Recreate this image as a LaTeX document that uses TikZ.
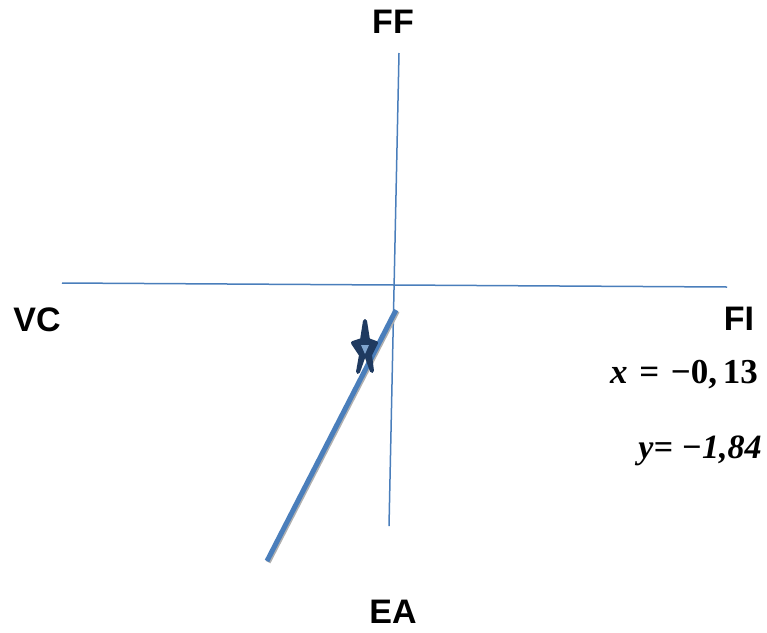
\documentclass[tikz,border=0pt]{standalone}
\usepackage{fontspec}
\setmainfont{Liberation Sans}
\newfontfamily\serifbi{Liberation Serif}
\definecolor{axisblue}{HTML}{4A7EBB}
\definecolor{navy}{HTML}{1F3A60}
\definecolor{shadowgray}{HTML}{B0B0B0}
\begin{document}
\begin{tikzpicture}[x=1pt,y=-1pt,
  axis/.style={draw=axisblue,line width=1.5pt},
  lbl/.style={font=\fontsize{34}{34}\selectfont\bfseries,inner sep=0pt},
  vec/.style={draw=axisblue,line width=5pt}]
\useasboundingbox (0,0) rectangle (767,632);
% axes
\coordinate (ffend) at (399,53);
\coordinate (eaend) at (389,526);
\coordinate (vcend) at (62,283);
\coordinate (fiend) at (727,287);
\draw[axis] (ffend) -- (eaend);
\draw[axis] (vcend) -- (fiend);
% vector
\coordinate (vA) at (396,310);
\coordinate (vB) at (267,561);
\draw[draw=shadowgray,line width=5pt] ([xshift=1.2pt,yshift=-1.2pt]vA) -- ([xshift=1.2pt,yshift=-1.2pt]vB);
\draw[vec] (vA) -- (vB);
% star
\coordinate (st) at (365,321);
\coordinate (sl) at (353,343);
\coordinate (sr) at (376,343);
\coordinate (sbl) at (358,372);
\coordinate (sbr) at (372,371);
\coordinate (sc) at (365,352);
\filldraw[navy,line width=4pt,line join=round]
  (st) -- (368,340) -- (sr) -- (370,355) -- (sbr) -- (sc) -- (sbl) -- (361,355) -- (sl) -- (362,340) -- cycle;
\fill[axisblue!70] (361,345) -- (369,345) -- (365,354) -- cycle;
% labels
\node[lbl] (FF) at (393,22) {FF};
\node[lbl] (VC) at (37,320) {VC};
\node[lbl] (FI) at (739,319) {FI};
\node[lbl] (EA) at (393,612) {EA};
\node[inner sep=0pt,font=\serifbi\fontsize{35}{35}\selectfont\bfseries] (xv) at (684,375) {{\itshape x}\,\,=\,\,−0,\,13};
\node[inner sep=0pt,font=\serifbi\fontsize{34}{34}\selectfont\bfseries\itshape] (yv) at (700,451) {y= −1,84};
\end{tikzpicture}
\end{document}
